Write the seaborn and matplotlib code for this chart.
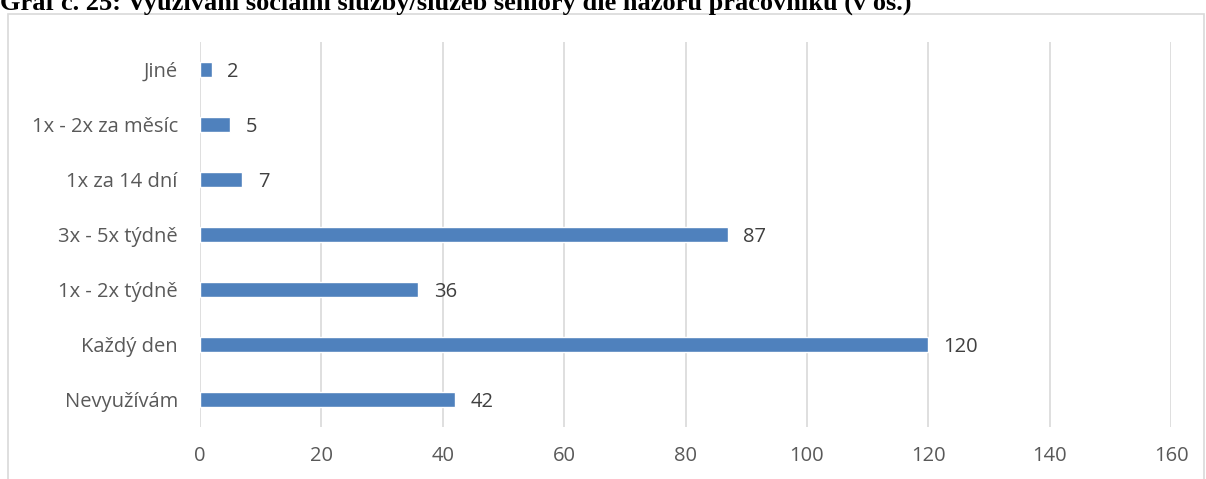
import seaborn as sns
import pandas as pd
import matplotlib.pyplot as plt
from matplotlib.patches import Rectangle

# Data
categories = ["Jiné", "1x - 2x za měsíc", "1x za 14 dní", "3x - 5x týdně",
              "1x - 2x týdně", "Každý den", "Nevyužívám"]
values = [2, 5, 7, 87, 36, 120, 42]
x_ticks = [0, 20, 40, 60, 80, 100, 120, 140, 160]

df = pd.DataFrame({"kategorie": categories, "pocet": values})

sns.set_style("white")
plt.rcParams['font.family'] = ['Open Sans', 'DejaVu Sans']

fig = plt.figure(figsize=(12.06, 4.79), dpi=100)
ax = fig.add_axes([200 / 1206, 1 - 427 / 479, 971 / 1206, 385 / 479])

sns.barplot(data=df, x="pocet", y="kategorie", color="#4F81BD",
            width=0.29, saturation=1, ax=ax, orient="h")

ax.set_xlim(0, 160)
ax.set_ylim(6.5, -0.5)
ax.set_xticks(x_ticks)
ax.set_xticklabels([str(t) for t in x_ticks])
ax.grid(axis="x", color="#D9D9D9", linewidth=1.2)
ax.set_axisbelow(True)
for s in ax.spines.values():
    s.set_visible(False)
ax.tick_params(axis="both", length=0, labelsize=14.5, labelcolor="#595959")
ax.tick_params(axis="x", pad=14)
ax.tick_params(axis="y", pad=16)
ax.set_xlabel("")
ax.set_ylabel("")

# value labels
for i, v in enumerate(values):
    ax.annotate(str(v), (v, i), xytext=(11, -2), textcoords="offset points",
                va="center", ha="left", fontsize=14.5, color="#404040")

# chart border
fig.patches.append(Rectangle((8 / 1206, -0.05), 1196 / 1206, 1.05 - 14 / 479,
                             transform=fig.transFigure, fill=False,
                             edgecolor="#D9D9D9", linewidth=1.2))

# title (partly cut off at the top, as in the source)
fig.text(0.0, 1 - 10 / 479, "Graf č. 25: Využívání sociální služby/služeb seniory dle názoru pracovníků (v os.)",
         fontsize=19, fontweight="bold", family="Liberation Serif",
         ha="left", va="baseline", color="black")

fig.savefig("out.png", dpi=100)
